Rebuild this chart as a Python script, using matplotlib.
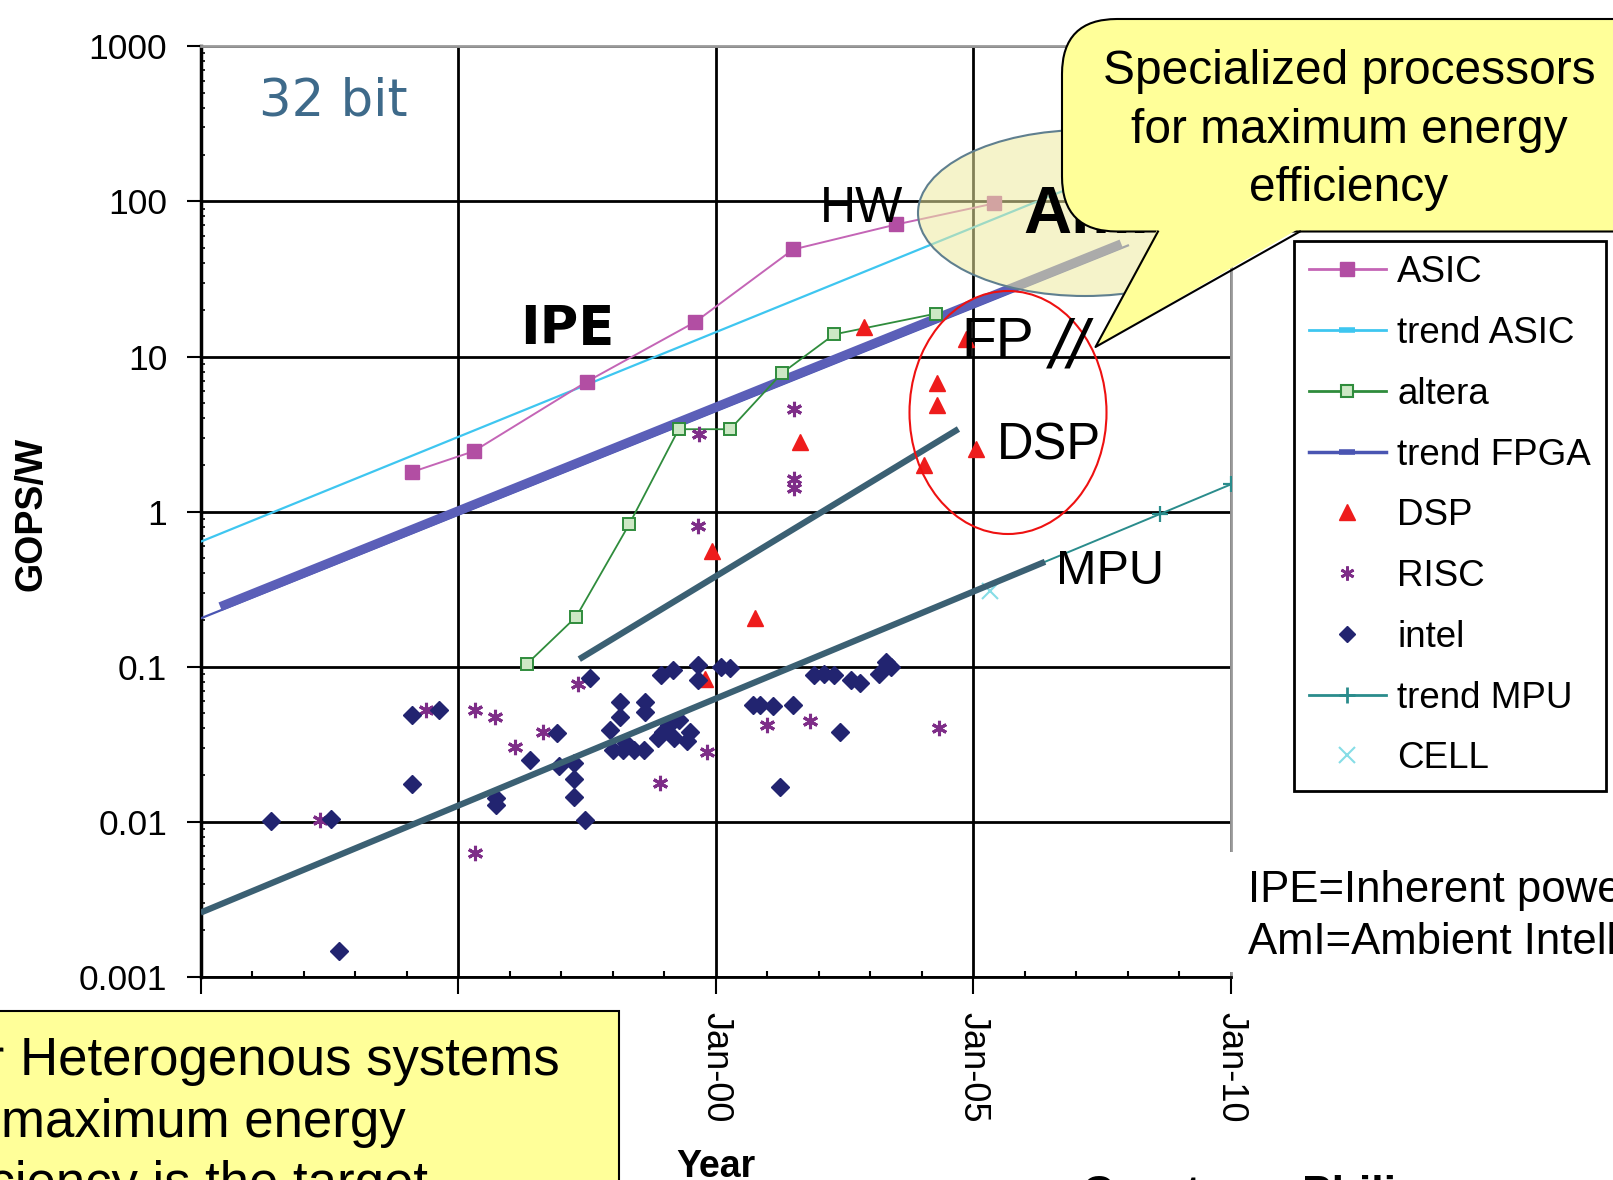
import matplotlib.pyplot as plt
from matplotlib.lines import Line2D
from matplotlib.patches import Ellipse, FancyBboxPatch, Polygon, Rectangle
from matplotlib.ticker import FixedLocator, LogLocator, NullFormatter

plt.rcParams['font.family'] = ['Liberation Sans', 'DejaVu Sans']

# ---- values (x = year, y = GOPS/W) ----
asic_year = [1994.1, 1995.3, 1997.5, 1999.6, 2001.5, 2003.5, 2005.4]
asic_gops = [1.8, 2.45, 6.9, 16.7, 49, 71, 97]

altera_year = [1996.33, 1997.29, 1998.32, 1999.28, 2000.28, 2001.28, 2002.3, 2004.27]
altera_gops = [0.104, 0.21, 0.83, 3.4, 3.4, 7.8, 13.9, 18.9]

trend_asic_year = [1990.0, 2007.5]
trend_asic_gops = [0.64, 148]

trend_fpga_year = [1990.0, 2008.0]
trend_fpga_gops = [0.205, 52]

trend_mpu_year = [1990.0, 2008.62, 2010.0]
trend_mpu_gops = [0.0026, 0.965, 1.5]

dsp_year = [2002.87, 2004.85, 2004.29, 2004.29, 2001.64, 2004.05, 2005.05, 1999.92, 2000.76, 1999.8]
dsp_gops = [15.5, 12.9, 6.8, 4.85, 2.8, 2.0, 2.52, 0.556, 0.206, 0.083]

risc_year = [2001.52, 2001.52, 2001.52, 1999.68, 1999.66, 1997.33, 1994.37, 1995.33,
             1995.72, 1996.65, 1996.1, 1995.33, 1992.32, 1998.92, 1999.83, 2001.0,
             2001.83, 2004.33]
risc_gops = [4.6, 1.62, 1.43, 3.16, 0.81, 0.077, 0.053, 0.053,
             0.0477, 0.038, 0.0305, 0.0063, 0.0103, 0.0178, 0.0282, 0.042,
             0.045, 0.040]

intel_year = [1991.36, 1992.53, 1992.69, 1994.11, 1994.63, 1994.11, 1995.73, 1995.73,
              1996.39, 1996.91, 1996.95, 1997.25, 1997.25, 1997.25, 1997.47, 1997.56,
              1997.94, 1998.14, 1998.14, 1998.63, 1998.63, 1998.0, 1998.2, 1998.42,
              1998.6, 1998.26, 1998.93, 1999.17, 1999.66, 1999.66, 2000.1, 2000.27,
              1998.98, 1999.1, 1999.28, 1999.18, 1999.5, 1998.88, 1999.45, 2001.25,
              2000.72, 2000.86, 2001.11, 2001.5, 2001.9, 2002.1, 2002.3, 2002.63,
              2002.79, 2003.17, 2003.3, 2003.4, 2002.41]
intel_gops = [0.0102, 0.0105, 0.00147, 0.0487, 0.053, 0.0175, 0.0142, 0.0128,
              0.025, 0.0372, 0.0229, 0.024, 0.0188, 0.0145, 0.0103, 0.0847,
              0.039, 0.059, 0.0474, 0.059, 0.0513, 0.029, 0.029, 0.029,
              0.029, 0.0324, 0.0885, 0.0953, 0.1026, 0.0822, 0.0995, 0.0975,
              0.0379, 0.042, 0.0454, 0.0345, 0.0379, 0.0345, 0.033, 0.0168,
              0.0568, 0.0568, 0.0555, 0.0568, 0.088, 0.09, 0.088, 0.0824,
              0.0787, 0.0904, 0.107, 0.1, 0.038]

cell_year = [2005.33]
cell_gops = [0.31]

# hand-drawn overlay lines on the slide
ipe_year = [1990.38, 2007.87]
ipe_gops = [0.244, 53.3]
dsp_fit_year = [1997.35, 2004.71]
dsp_fit_gops = [0.112, 3.41]
mpu_fit_year = [1990.0, 2006.39]
mpu_fit_gops = [0.0026, 0.475]

tick_years = [1990, 1995, 2000, 2005, 2010]
tick_labels = ['Jan-90', 'Jan-95', 'Jan-00', 'Jan-05', 'Jan-10']
ytick_vals = [0.001, 0.01, 0.1, 1, 10, 100, 1000]
ytick_labels = ['0.001', '0.01', '0.1', '1', '10', '100', '1000']

# colours
C_ASIC = '#b24ea3'
C_ASIC_L = '#c465b6'
C_TASIC = '#3ec6f0'
C_ALT = '#2f8c3c'
C_TFPGA = '#4a55b2'
C_IPE = '#5b5fb8'
C_DSP = '#ee1c1c'
C_RISC = '#7e2d88'
C_INTEL = '#222470'
C_TMPU = '#2a8c8c'
C_CELL = '#86dde6'
C_HAND = '#3b6073'
YELLOW = '#ffff99'

W, H = 1613, 1180
fig = plt.figure(figsize=(W / 100, H / 100), dpi=100)
ax = fig.add_axes([200.6 / W, 1 - 977 / H, (1231 - 200.6) / W, (977 - 46.3) / H])

ax.plot(trend_asic_year, trend_asic_gops, color=C_TASIC, lw=1.6, zorder=3)
ax.plot(trend_fpga_year, trend_fpga_gops, color=C_TFPGA, lw=1.6, zorder=3)
ax.plot(ipe_year, ipe_gops, color=C_IPE, lw=6.5, solid_capstyle='butt', zorder=3.5)
ax.plot(trend_mpu_year, trend_mpu_gops, color=C_TMPU, lw=1.4, marker='+', ms=11,
        mew=1.6, markevery=[1, 2], zorder=3)
ax.plot(asic_year, asic_gops, color=C_ASIC_L, lw=1.4, marker='s', ms=9.5,
        mfc=C_ASIC, mec=C_ASIC, zorder=4)
ax.plot(altera_year, altera_gops, color=C_ALT, lw=1.3, marker='s', ms=9,
        mfc='#cde8c5', mec=C_ALT, mew=1.4, zorder=4)
ax.plot(dsp_year, dsp_gops, ls='none', marker='^', ms=11, color=C_DSP, zorder=4)
ax.plot(risc_year, risc_gops, ls='none', marker=(6, 2, 0), ms=11, mew=2.2,
        color=C_RISC, zorder=4.2)
ax.plot(intel_year, intel_gops, ls='none', marker='D', ms=9.5, color=C_INTEL, zorder=4.3)
ax.plot(cell_year, cell_gops, ls='none', marker='x', ms=12, mew=1.5, color=C_CELL, zorder=4)
ax.plot(dsp_fit_year, dsp_fit_gops, color=C_HAND, lw=4.5, solid_capstyle='butt', zorder=5)
ax.plot(mpu_fit_year, mpu_fit_gops, color=C_HAND, lw=4.5, solid_capstyle='butt', zorder=5)

ax.set_yscale('log')
ax.set_xlim(1990, 2010)
ax.set_ylim(0.001, 1000)
ax.set_xticks(tick_years)
ax.set_xticklabels(tick_labels)
ax.xaxis.set_minor_locator(FixedLocator(range(1990, 2011)))
ax.set_yticks(ytick_vals)
ax.set_yticklabels(ytick_labels)
ax.yaxis.set_minor_locator(LogLocator(base=10, subs=range(2, 10), numticks=20))
ax.yaxis.set_minor_formatter(NullFormatter())

ax.set_axisbelow(True)
ax.grid(True, which='major', color='black', lw=2)
ax.tick_params(axis='y', which='major', direction='out', length=10, width=1.5,
               pad=14, labelsize=25.5)
ax.tick_params(axis='y', which='minor', direction='in', length=3, width=1.2)
ax.tick_params(axis='x', which='major', direction='out', length=12, width=1.5,
               pad=13, labelsize=26, labelrotation=-90)
ax.tick_params(axis='x', which='minor', direction='in', length=4.5, width=1.5)
for side in ['top', 'right']:
    ax.spines[side].set_color('#9a9a9a')
    ax.spines[side].set_linewidth(2)
ax.spines['left'].set_linewidth(2.5)
ax.spines['bottom'].set_linewidth(2)

# overlay in pixel coordinates for the slide annotations
ov = fig.add_axes([0, 0, 1, 1])
ov.set_xlim(0, W)
ov.set_ylim(H, 0)
ov.axis('off')

ov.text(31, 514, 'GOPS/W', rotation=90, ha='center', va='center',
        fontsize=27, fontweight='bold')
ov.text(716, 1177, 'Year', ha='center', va='baseline', fontsize=27, fontweight='bold')
ov.text(1082, 1207, 'Courtesy: Philips', ha='left', va='baseline', fontsize=32,
        fontweight='bold')

ov.text(259, 115, '32 bit', family='DejaVu Sans', fontsize=37, color='#3e6a8a')
ov.text(520, 344, 'IPE', family='DejaVu Sans', fontweight='bold', fontsize=38)
ov.text(820, 222, 'HW', fontsize=36)
ov.text(961, 358, 'FP', fontsize=41, zorder=3)
ov.text(1050, 368, '//', fontsize=50, fontstyle='italic', zorder=3)
ov.text(997, 460, 'DSP', fontsize=36.5, zorder=3)
ov.text(1056, 584, 'MPU', fontsize=35, zorder=3)

ov.add_patch(Ellipse((1085, 213), 334, 166, fc='#eeeaa0', alpha=0.55, ec='none', zorder=1))
ov.add_patch(Ellipse((1085, 213), 334, 166, fc='none', ec='#5f7f8f', lw=1.5, zorder=1.1))
ov.text(1023, 233, 'AmI', fontsize=48, fontweight='bold', zorder=2)
ov.add_patch(Ellipse((1008, 412.5), 197, 243, fc='none', ec='#ee1111', lw=1.5, zorder=2))

# speech-bubble callout
ov.add_patch(FancyBboxPatch((1062, 19), 640, 212.5,
                            boxstyle='round,pad=0,rounding_size=55',
                            fc=YELLOW, ec='black', lw=1.5, zorder=4))
ov.add_patch(Polygon([(1158, 228), (1095.5, 347), (1300, 228)], closed=True,
                     fc=YELLOW, ec='none', zorder=4.1))
ov.plot([1158, 1095.5, 1300], [231.5, 347, 231.5], color='black', lw=1.5, zorder=4.2)
for txt, yb in zip(['Specialized processors', 'for maximum energy', 'efficiency'],
                   [84, 143, 200.6]):
    ov.text(1349, yb, txt, ha='center', va='baseline', fontsize=34.5, zorder=5)

# legend
handles = [
    Line2D([], [], color=C_ASIC_L, lw=2, marker='s', ms=10, mfc=C_ASIC, mec=C_ASIC),
    Line2D([], [], color=C_TASIC, lw=2, marker='_', ms=12, mew=4),
    Line2D([], [], color=C_ALT, lw=2, marker='s', ms=9, mfc='#cde8c5', mec=C_ALT, mew=1.5),
    Line2D([], [], color=C_TFPGA, lw=2.5, marker='_', ms=12, mew=4),
    Line2D([], [], ls='none', marker='^', ms=11, color=C_DSP),
    Line2D([], [], ls='none', marker=(6, 2, 0), ms=10, mew=2, color=C_RISC),
    Line2D([], [], ls='none', marker='D', ms=8.5, color=C_INTEL),
    Line2D([], [], color=C_TMPU, lw=2, marker='+', ms=12, mew=2),
    Line2D([], [], ls='none', marker='x', ms=12, mew=1.5, color=C_CELL),
]
labels = ['ASIC', 'trend ASIC', 'altera', 'trend FPGA', 'DSP', 'RISC', 'intel',
          'trend MPU', 'CELL']
leg = ov.legend(handles, labels, loc='upper left', bbox_to_anchor=(1294, 240.5),
                bbox_transform=ov.transData, borderaxespad=0, fancybox=False,
                edgecolor='black', framealpha=1, fontsize=26.5, numpoints=1,
                handlelength=2.1, handletextpad=0.3, labelspacing=0.7, borderpad=0.4)
leg.get_frame().set_linewidth(2)
leg.set_zorder(6)

# note box on the right
ov.add_patch(Rectangle((1227, 852), 400, 120, fc='white', ec='none', zorder=5))
ov.text(1248, 902, 'IPE=Inherent power efficiency', fontsize=31.5, zorder=6)
ov.text(1248, 954, 'AmI=Ambient Intelligence', fontsize=31.5, zorder=6)

# yellow box at bottom left
ov.add_patch(Rectangle((-10, 1011), 629, 200, fc=YELLOW, ec='black', lw=1.5, zorder=6))
ov.text(5, 1075, 'For', ha='right', fontsize=38, zorder=7)
ov.text(20, 1075, 'Heterogenous systems', ha='left', fontsize=38, zorder=7)
ov.text(1, 1137, 'maximum energy', ha='left', fontsize=38, zorder=7)
ov.text(428, 1199, 'efficiency is the target', ha='right', fontsize=38, zorder=7)

fig.savefig('out.png', dpi=100)
